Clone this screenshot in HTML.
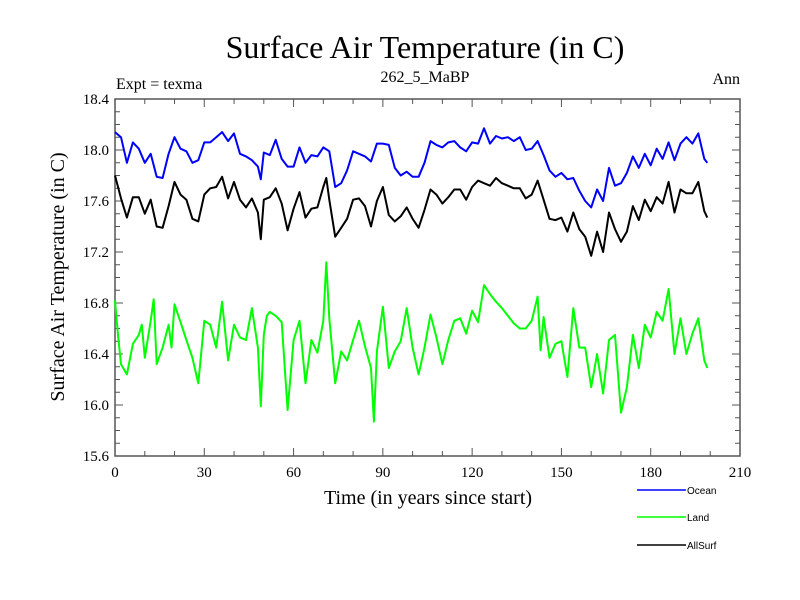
<!DOCTYPE html>
<html><head><meta charset="utf-8"><style>
body{margin:0;background:#fff;}
svg{display:block;}
</style></head><body>
<svg id="chart" width="800" height="600" xmlns="http://www.w3.org/2000/svg" font-family="Liberation Serif, serif">
<rect width="800" height="600" fill="#fff"/>
<text x="425" y="58" font-size="32" text-anchor="middle">Surface Air Temperature (in C)</text>
<text x="425" y="82" font-size="16" text-anchor="middle">262_5_MaBP</text>
<text x="116" y="89" font-size="16">Expt = texma</text>
<text x="740" y="84" font-size="16" text-anchor="end">Ann</text>
<text x="428" y="504" font-size="20" text-anchor="middle">Time (in years since start)</text>
<text transform="translate(64,277) rotate(-90)" font-size="20" text-anchor="middle">Surface Air Temperature (in C)</text>
<g id="axes"></g>
<g id="series"></g>
<g id="legend" font-family="Liberation Sans, sans-serif" font-size="10">
  <line x1="637" y1="490" x2="686" y2="490" stroke="#0000ff" stroke-width="1.5"/>
  <text x="687" y="494">Ocean</text>
  <line x1="637" y1="517" x2="686" y2="517" stroke="#00ff00" stroke-width="1.5"/>
  <text x="687" y="521">Land</text>
  <line x1="637" y1="545" x2="686" y2="545" stroke="#000" stroke-width="1.5"/>
  <text x="687" y="549">AllSurf</text>
</g>
</svg>
<script>
const xTicks=[0,30,60,90,120,150,180,210];
const yTicks=[15.6,16.0,16.4,16.8,17.2,17.6,18.0,18.4];
const oceanYears=[0,2,4,6,8,10,12,14,16,18,20,22,24,26,28,30,32,34,36,38,40,42,44,46,48,49,50,52,54,56,58,60,62,64,66,68,70,72,74,76,78,80,82,84,86,88,90,92,94,96,98,100,102,104,106,108,110,112,114,116,118,120,122,124,126,128,130,132,134,136,138,140,142,144,146,148,150,152,154,156,158,160,162,164,166,168,170,172,174,176,178,180,182,184,186,188,190,192,194,196,198,199];
const oceanVals=[18.14,18.10,17.90,18.06,18.01,17.90,17.97,17.79,17.78,17.97,18.10,18.01,17.99,17.90,17.92,18.06,18.06,18.10,18.14,18.07,18.13,17.97,17.95,17.92,17.87,17.77,17.98,17.96,18.08,17.93,17.87,17.87,18.02,17.90,17.96,17.95,18.02,17.99,17.71,17.74,17.84,17.99,17.97,17.95,17.91,18.05,18.05,18.04,17.86,17.80,17.83,17.79,17.79,17.90,18.07,18.04,18.02,18.06,18.07,18.02,17.99,18.06,18.05,18.17,18.05,18.11,18.09,18.10,18.07,18.10,18.00,18.01,18.07,17.96,17.84,17.79,17.82,17.77,17.78,17.68,17.60,17.55,17.69,17.60,17.86,17.72,17.74,17.82,17.95,17.86,17.97,17.88,18.01,17.93,18.06,17.92,18.05,18.10,18.05,18.13,17.93,17.90];
const allYears=[0,2,4,6,8,10,12,14,16,18,20,22,24,26,28,30,32,34,36,38,40,42,44,46,48,49,50,52,54,56,58,60,62,64,66,68,70,71,72,74,76,78,80,82,84,86,88,90,92,94,96,98,100,102,104,106,108,110,112,114,116,118,120,122,124,126,128,130,132,134,136,138,140,142,144,146,148,150,152,154,156,158,160,162,164,166,168,170,172,174,176,178,180,182,184,186,188,190,192,194,196,198,199];
const allVals=[17.80,17.62,17.47,17.63,17.63,17.50,17.61,17.40,17.39,17.56,17.75,17.65,17.61,17.46,17.44,17.65,17.70,17.71,17.79,17.62,17.75,17.61,17.55,17.62,17.51,17.30,17.61,17.63,17.70,17.58,17.37,17.54,17.67,17.47,17.54,17.55,17.71,17.78,17.61,17.32,17.39,17.46,17.61,17.62,17.56,17.40,17.60,17.71,17.49,17.44,17.48,17.55,17.46,17.39,17.53,17.69,17.65,17.58,17.63,17.69,17.69,17.61,17.71,17.76,17.74,17.72,17.78,17.74,17.72,17.70,17.70,17.62,17.65,17.76,17.61,17.46,17.45,17.47,17.36,17.51,17.38,17.32,17.17,17.36,17.20,17.51,17.38,17.28,17.36,17.56,17.45,17.61,17.52,17.63,17.58,17.75,17.51,17.69,17.66,17.66,17.75,17.52,17.47];
const landYears=[0,1,2,4,6,8,9,10,12,13,14,16,18,19,20,22,24,26,28,30,32,34,36,38,40,42,44,46,48,49,50,51,52,54,56,58,60,62,64,66,68,70,71,72,74,76,78,80,82,84,86,87,88,90,92,94,96,98,100,102,104,106,108,110,112,114,116,118,120,122,124,126,128,130,132,134,136,138,140,142,143,144,146,148,150,152,154,156,158,160,162,164,166,168,170,172,174,176,178,180,182,184,186,188,190,192,194,196,198,199];
const landVals=[16.82,16.55,16.32,16.24,16.48,16.55,16.63,16.37,16.66,16.83,16.32,16.45,16.63,16.45,16.79,16.65,16.51,16.37,16.17,16.66,16.63,16.45,16.81,16.35,16.63,16.53,16.51,16.76,16.45,15.99,16.55,16.70,16.73,16.70,16.65,15.96,16.51,16.66,16.17,16.51,16.41,16.66,17.12,16.68,16.17,16.42,16.35,16.51,16.66,16.46,16.29,15.87,16.42,16.77,16.29,16.42,16.50,16.76,16.45,16.24,16.45,16.71,16.53,16.32,16.51,16.66,16.68,16.56,16.74,16.65,16.94,16.87,16.81,16.76,16.70,16.64,16.60,16.60,16.66,16.85,16.43,16.69,16.37,16.48,16.50,16.22,16.76,16.45,16.45,16.14,16.40,16.09,16.51,16.55,15.94,16.14,16.55,16.29,16.63,16.53,16.73,16.66,16.91,16.40,16.68,16.40,16.56,16.68,16.35,16.29];

const X0=115,X1=740,Y0=456,Y1=99;
const xs=t=>X0+(t-0)*(X1-X0)/210;
const ys=v=>Y0-(v-15.6)*(Y0-Y1)/2.8;
const NS='http://www.w3.org/2000/svg';
const axes=document.getElementById('axes');
function mk(tag,attrs,parent){const e=document.createElementNS(NS,tag);for(const k in attrs)e.setAttribute(k,attrs[k]);parent.appendChild(e);return e;}
const frame=mk('rect',{x:X0,y:Y1,width:X1-X0,height:Y0-Y1,fill:'none',stroke:'#555','stroke-width':1.5},axes);


for(let t=0;t<=210;t+=10){
  const major=t%30===0;const L=major?8:5;
  const a=mk('line',{x1:xs(t),y1:Y0,x2:xs(t),y2:Y0-L,stroke:'#555'},axes);
  
  
  const b=mk('line',{x1:xs(t),y1:Y1,x2:xs(t),y2:Y1+L,stroke:'#555'},axes);
  
  
}
for(let i=0;i<=28;i++){
  const v=15.6+i*0.1;const major=i%4===0;const L=major?8:5;
  const a=mk('line',{x1:X0,y1:ys(v),x2:X0+L,y2:ys(v),stroke:'#555'},axes);
  
  
  const b=mk('line',{x1:X1,y1:ys(v),x2:X1-L,y2:ys(v),stroke:'#555'},axes);
  
  
}
xTicks.forEach(t=>{
  const e=mk('text',{x:xs(t),y:Y0+21,'font-size':15,'text-anchor':'middle'},axes);
  
  
  e.textContent=t;
});
yTicks.forEach(v=>{
  const e=mk('text',{x:X0-6,y:ys(v)+5,'font-size':15,'text-anchor':'end'},axes);
  
  
  e.textContent=v.toFixed(1);
});
const ser=document.getElementById('series');
function line(years,vals,color,name){
  const d=years.map((t,i)=>(i?'L':'M')+xs(t).toFixed(1)+' '+ys(vals[i]).toFixed(1)).join(' ');
  const p=mk('path',{d:d,fill:'none',stroke:color,'stroke-width':2,'stroke-linejoin':'round'},ser);
  
  
}
line(landYears,landVals,'#00ff00','land-line');
line(allYears,allVals,'#000000','allsurf-line');
line(oceanYears,oceanVals,'#0000ff','ocean-line');
</script>
</body></html>
